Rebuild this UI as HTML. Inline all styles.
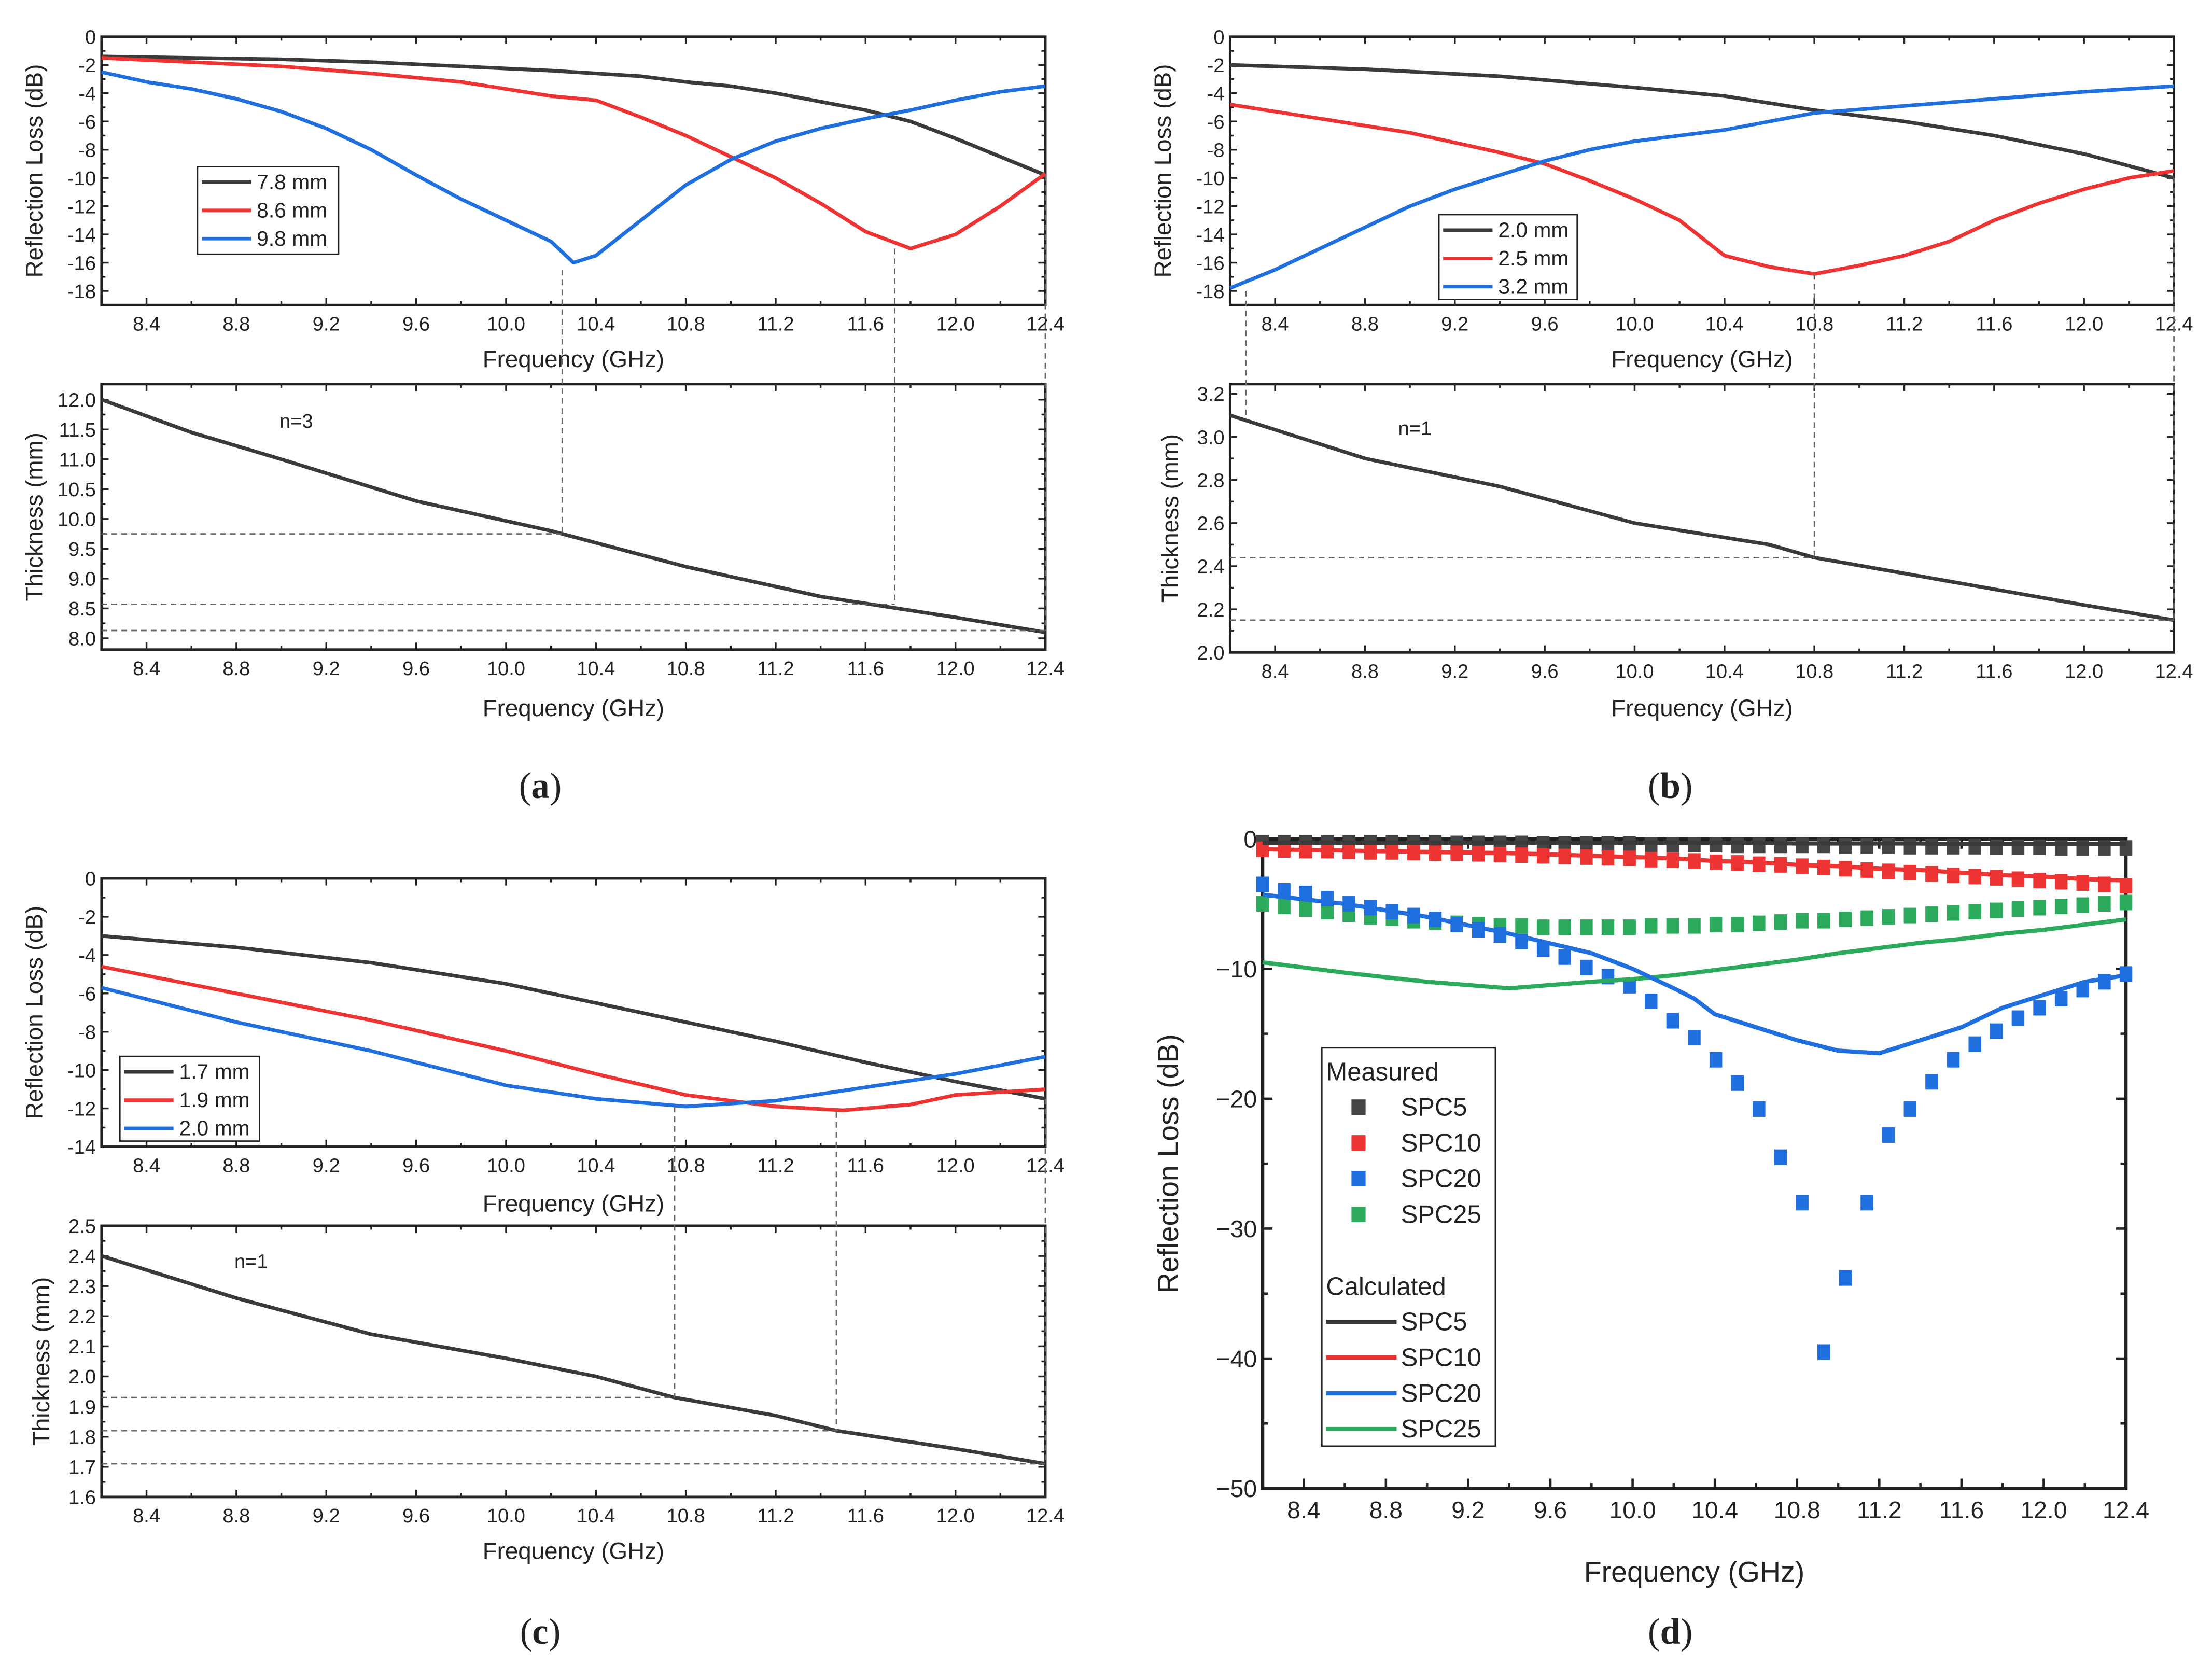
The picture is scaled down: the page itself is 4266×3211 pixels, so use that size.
<!DOCTYPE html>
<html><head><meta charset="utf-8">
<style>
html,body{margin:0;padding:0;background:#fff;}
svg{display:block;font-family:"Liberation Sans",sans-serif;}
</style></head>
<body>
<svg id="fig" width="4266" height="3211" viewBox="0 0 1568 1179" preserveAspectRatio="none" xmlns="http://www.w3.org/2000/svg"></svg>
<script>
// ---- Panel (a) data ----
const aFreq78 = [8.2,8.6,9.0,9.4,9.8,10.2,10.4,10.6,10.8,11.0,11.2,11.4,11.6,11.8,12.0,12.2,12.4];
const aRL78 = [-1.4,-1.5,-1.6,-1.8,-2.1,-2.4,-2.6,-2.8,-3.2,-3.5,-4.0,-4.6,-5.2,-6.0,-7.2,-8.5,-9.8];
const aFreq86 = [8.2,8.6,9.0,9.4,9.8,10.2,10.4,10.6,10.8,11.0,11.2,11.4,11.6,11.8,12.0,12.2,12.4];
const aRL86 = [-1.5,-1.8,-2.1,-2.6,-3.2,-4.2,-4.5,-5.7,-7.0,-8.5,-10.0,-11.8,-13.8,-15.0,-14.0,-12.0,-9.7];
const aFreq98 = [8.2,8.4,8.6,8.8,9.0,9.2,9.4,9.6,9.8,10.0,10.2,10.3,10.4,10.6,10.8,11.0,11.2,11.4,11.6,11.8,12.0,12.2,12.4];
const aRL98 = [-2.5,-3.2,-3.7,-4.4,-5.3,-6.5,-8.0,-9.8,-11.5,-13.0,-14.5,-16.0,-15.5,-13.0,-10.5,-8.7,-7.4,-6.5,-5.8,-5.2,-4.5,-3.9,-3.5];
const aThkFreq = [8.2,8.6,9.0,9.6,10.2,10.8,11.4,12.0,12.4];
const aThk = [12.0,11.45,11.0,10.3,9.8,9.2,8.7,8.35,8.1];
// ---- Panel (b) data ----
const bFreq20 = [8.2,8.8,9.4,10.0,10.4,10.8,11.2,11.6,12.0,12.4];
const bRL20 = [-2.0,-2.3,-2.8,-3.6,-4.2,-5.2,-6.0,-7.0,-8.3,-10.0];
const bFreq25 = [8.2,8.6,9.0,9.4,9.6,9.8,10.0,10.2,10.4,10.6,10.8,11.0,11.2,11.4,11.6,11.8,12.0,12.2,12.4];
const bRL25 = [-4.8,-5.8,-6.8,-8.2,-9.0,-10.2,-11.5,-13.0,-15.5,-16.3,-16.8,-16.2,-15.5,-14.5,-13.0,-11.8,-10.8,-10.0,-9.5];
const bFreq32 = [8.2,8.4,8.6,8.8,9.0,9.2,9.4,9.6,9.8,10.0,10.4,10.8,11.2,11.6,12.0,12.4];
const bRL32 = [-17.8,-16.5,-15.0,-13.5,-12.0,-10.8,-9.8,-8.8,-8.0,-7.4,-6.6,-5.4,-4.9,-4.4,-3.9,-3.5];
const bThkFreq = [8.2,8.8,9.4,10.0,10.6,10.8,11.4,12.0,12.4];
const bThk = [3.1,2.9,2.77,2.6,2.5,2.44,2.33,2.22,2.15];
// ---- Panel (c) data ----
const cFreq17 = [8.2,8.8,9.4,10.0,10.4,10.8,11.2,11.6,12.0,12.4];
const cRL17 = [-3.0,-3.6,-4.4,-5.5,-6.5,-7.5,-8.5,-9.6,-10.6,-11.5];
const cFreq19 = [8.2,8.8,9.4,10.0,10.4,10.8,11.2,11.5,11.8,12.0,12.4];
const cRL19 = [-4.6,-6.0,-7.4,-9.0,-10.2,-11.3,-11.9,-12.1,-11.8,-11.3,-11.0];
const cFreq20 = [8.2,8.8,9.4,10.0,10.4,10.8,11.2,11.6,12.0,12.4];
const cRL20 = [-5.7,-7.5,-9.0,-10.8,-11.5,-11.9,-11.6,-10.9,-10.2,-9.3];
const cThkFreq = [8.2,8.8,9.4,10.0,10.4,10.75,11.2,11.47,12.0,12.4];
const cThk = [2.4,2.26,2.14,2.06,2.0,1.93,1.87,1.82,1.76,1.71];
// ---- Panel (d) data ----
const dMeasFreq = [8.2,8.305,8.41,8.515,8.62,8.725,8.83,8.935,9.04,9.145,9.25,9.355,9.46,9.565,9.67,9.775,9.88,9.985,10.09,10.195,10.3,10.405,10.51,10.615,10.72,10.825,10.93,11.035,11.14,11.245,11.35,11.455,11.56,11.665,11.77,11.875,11.98,12.085,12.19,12.295,12.4];
const dMeas5 = [-0.3,-0.3,-0.3,-0.3,-0.3,-0.3,-0.3,-0.3,-0.3,-0.35,-0.35,-0.35,-0.35,-0.4,-0.4,-0.4,-0.4,-0.4,-0.45,-0.45,-0.45,-0.45,-0.5,-0.5,-0.5,-0.5,-0.5,-0.55,-0.55,-0.55,-0.6,-0.6,-0.6,-0.6,-0.65,-0.65,-0.65,-0.7,-0.7,-0.7,-0.7];
const dMeas10 = [-0.8,-0.85,-0.9,-0.9,-0.95,-1.0,-1.0,-1.05,-1.1,-1.1,-1.15,-1.2,-1.25,-1.3,-1.35,-1.4,-1.45,-1.5,-1.6,-1.65,-1.7,-1.8,-1.85,-1.95,-2.0,-2.1,-2.2,-2.3,-2.4,-2.5,-2.6,-2.7,-2.8,-2.9,-3.0,-3.1,-3.2,-3.3,-3.4,-3.5,-3.6];
const dMeas20 = [-3.5,-4.0,-4.2,-4.6,-5.0,-5.3,-5.6,-5.9,-6.2,-6.6,-7.0,-7.4,-7.9,-8.5,-9.1,-9.9,-10.6,-11.3,-12.5,-14.0,-15.3,-17.0,-18.8,-20.8,-24.5,-28.0,-39.5,-33.8,-28.0,-22.8,-20.8,-18.7,-17.0,-15.8,-14.8,-13.8,-13.0,-12.3,-11.6,-11.0,-10.4];
const dMeas25 = [-5.0,-5.2,-5.4,-5.6,-5.8,-6.0,-6.1,-6.3,-6.4,-6.5,-6.6,-6.7,-6.7,-6.8,-6.8,-6.8,-6.8,-6.8,-6.7,-6.7,-6.7,-6.6,-6.6,-6.5,-6.4,-6.3,-6.3,-6.2,-6.1,-6.0,-5.9,-5.8,-5.7,-5.6,-5.5,-5.4,-5.3,-5.2,-5.1,-5.0,-4.9];
const dCalcFreq = [8.2,8.6,9.0,9.4,9.8,10.0,10.2,10.3,10.4,10.6,10.8,11.0,11.2,11.4,11.6,11.8,12.0,12.2,12.4];
const dCalc5 = [-0.3,-0.3,-0.3,-0.3,-0.3,-0.3,-0.3,-0.3,-0.3,-0.3,-0.35,-0.35,-0.35,-0.35,-0.4,-0.4,-0.4,-0.4,-0.4];
const dCalc10 = [-0.8,-0.9,-1.0,-1.1,-1.3,-1.4,-1.5,-1.6,-1.7,-1.8,-2.0,-2.1,-2.3,-2.4,-2.6,-2.8,-2.9,-3.1,-3.2];
const dCalc20 = [-4.3,-5.0,-6.0,-7.3,-8.8,-10.0,-11.5,-12.3,-13.5,-14.5,-15.5,-16.3,-16.5,-15.5,-14.5,-13.0,-12.0,-11.0,-10.5];
const dCalc25 = [-9.5,-10.3,-11.0,-11.5,-11.0,-10.8,-10.5,-10.3,-10.1,-9.7,-9.3,-8.8,-8.4,-8.0,-7.7,-7.3,-7.0,-6.6,-6.2];
const freqTicks = [8.4,8.8,9.2,9.6,10.0,10.4,10.8,11.2,11.6,12.0,12.4];
const freqMinor = [8.6,9.0,9.4,9.8,10.2,10.6,11.0,11.4,11.8,12.2];

const NS="http://www.w3.org/2000/svg";
const svg=document.getElementById('fig');
const GRAY="#3a3a3a",RED="#ee3333",BLUE="#1f6fde",GREEN="#2aaa5a";
function el(tag,attrs,parent){const e=document.createElementNS(NS,tag);for(const k in attrs)e.setAttribute(k,attrs[k]);(parent||svg).appendChild(e);return e;}
function txt(s,x,y,size,anchor,parent,extra){const t=el('text',Object.assign({x:x,y:y,'font-size':size,'text-anchor':anchor||'middle',fill:'#222'},extra||{}),parent);t.textContent=s;return t;}
function fmt1(v){return v.toFixed(1);}

function makeAxes(name,x0,x1,y0,y1,ymin,ymax,yticks,yfmt,fs,xlabelY,ylab,ylabX,showXLabel,tickLen,frameW){
  const g=el('g',{});
  
  
  const sx=f=>x0+(f-8.2)/(12.4-8.2)*(x1-x0);
  const sy=v=>y0+(ymax-v)/(ymax-ymin)*(y1-y0);
  const tw=Math.max(1,frameW*0.7);
  const xt=el('g',{},g);
  
  
  freqTicks.forEach(f=>{const X=sx(f);
    el('line',{x1:X,x2:X,y1:y1,y2:y1-tickLen,stroke:'#222','stroke-width':tw},xt);
    el('line',{x1:X,x2:X,y1:y0,y2:y0+tickLen,stroke:'#222','stroke-width':tw},xt);
    txt(fmt1(f),X,y1+fs+4,fs,'middle',xt);});
  freqMinor.forEach(f=>{const X=sx(f);
    el('line',{x1:X,x2:X,y1:y1,y2:y1-tickLen*0.55,stroke:'#222','stroke-width':tw},xt);
    el('line',{x1:X,x2:X,y1:y0,y2:y0+tickLen*0.55,stroke:'#222','stroke-width':tw},xt);});
  const yt=el('g',{},g);
  
  
  yticks.forEach((v,i)=>{const Y=sy(v);
    el('line',{x1:x0,x2:x0+tickLen,y1:Y,y2:Y,stroke:'#222','stroke-width':tw},yt);
    el('line',{x1:x1,x2:x1-tickLen,y1:Y,y2:Y,stroke:'#222','stroke-width':tw},yt);
    txt(yfmt(v),x0-4,Y+fs*0.36,fs,'end',yt,{});
    if(i<yticks.length-1){const Ym=sy((v+yticks[i+1])/2);
      el('line',{x1:x0,x2:x0+tickLen*0.55,y1:Ym,y2:Ym,stroke:'#222','stroke-width':tw},yt);
      el('line',{x1:x1,x2:x1-tickLen*0.55,y1:Ym,y2:Ym,stroke:'#222','stroke-width':tw},yt);}
  });
  el('rect',{x:x0,y:y0,width:x1-x0,height:y1-y0,fill:'none',stroke:'#222','stroke-width':frameW},g);
  if(showXLabel){const t=txt('Frequency (GHz)',(x0+x1)/2,xlabelY,fs*1.2,'middle',g);
    }
  const yl=txt(ylab,0,0,fs*1.2,'middle',g,{transform:`translate(${ylabX},${(y0+y1)/2}) rotate(-90)`});
  
  
  return {g,sx,sy};
}
function line(ax,xs,ys,color,name,w){
  const pts=xs.map((f,i)=>ax.sx(f).toFixed(2)+','+ax.sy(ys[i]).toFixed(2)).join(' ');
  const p=el('polyline',{points:pts,fill:'none',stroke:color,'stroke-width':w||2.6,'stroke-linejoin':'round'},ax.g);
  
  
  return p;
}
function dash(x1,y1,x2,y2,name){const l=el('line',{x1,y1,x2,y2,stroke:'#666','stroke-width':1,'stroke-dasharray':'4,3'});
  
  }
function legend(name,x,y,w,h,items,fs){
  const g=el('g',{});
  
  
  el('rect',{x,y,width:w,height:h,fill:'#fff',stroke:'#222','stroke-width':1},g);
  items.forEach((it,i)=>{const Y=y+11+i*20;
    const e=el('g',{},g);
    
    
    el('line',{x1:x+3,x2:x+38,y1:Y,y2:Y,stroke:it[1],'stroke-width':2.5},e);
    txt(it[0],x+42,Y+5,fs,'start',e);});
}
function caption(s,x,y){const t=txt('',x,y,26,'middle',null,{'font-family':'Liberation Serif,serif'});
  t.innerHTML='(<tspan font-weight="bold">'+s+'</tspan>)';
  
  }

const dbFmt=v=>v===0?'0':String(v);
// ---- Panel a ----
const aTop=makeAxes('panel-a-reflection-chart',72,741,26,216,-19,0,[0,-2,-4,-6,-8,-10,-12,-14,-16,-18],dbFmt,14,260,'Reflection Loss (dB)',30,true,5,1.8);
line(aTop,aFreq78,aRL78,GRAY,'line-7-8mm');
line(aTop,aFreq86,aRL86,RED,'line-8-6mm');
line(aTop,aFreq98,aRL98,BLUE,'line-9-8mm');
legend('legend-a',140,118,100,62,[['7.8 mm',GRAY],['8.6 mm',RED],['9.8 mm',BLUE]],15);
const aBot=makeAxes('panel-a-thickness-chart',72,741,272,460,7.81,12.26,[8.0,8.5,9.0,9.5,10.0,10.5,11.0,11.5,12.0],fmt1,14,507,'Thickness (mm)',30,true,5,1.8);
line(aBot,aThkFreq,aThk,GRAY,'thickness-line-a');
txt('n=3',210,303,14,'middle');
[[10.25,-16.5,9.75],[11.73,-15,8.57],[12.4,-9.8,8.13]].forEach((d,i)=>{
  dash(aTop.sx(d[0]),aTop.sy(d[1]),aTop.sx(d[0]),aBot.sy(d[2]),'guide-vertical-a');
  dash(72,aBot.sy(d[2]),aTop.sx(d[0]),aBot.sy(d[2]),'guide-horizontal-a');});
// ---- Panel b ----
const bTop=makeAxes('panel-b-reflection-chart',872,1541,26,216,-19,0,[0,-2,-4,-6,-8,-10,-12,-14,-16,-18],dbFmt,14,260,'Reflection Loss (dB)',830,true,5,1.8);
line(bTop,bFreq20,bRL20,GRAY,'line-2-0mm');
line(bTop,bFreq25,bRL25,RED,'line-2-5mm');
line(bTop,bFreq32,bRL32,BLUE,'line-3-2mm');
legend('legend-b',1020,152,98,60,[['2.0 mm',GRAY],['2.5 mm',RED],['3.2 mm',BLUE]],15);
const bBot=makeAxes('panel-b-thickness-chart',872,1541,272,462,2.0,3.245,[2.0,2.2,2.4,2.6,2.8,3.0,3.2],fmt1,14,507,'Thickness (mm)',835,true,5,1.8);
line(bBot,bThkFreq,bThk,GRAY,'thickness-line-b');
txt('n=1',1003,308,14,'middle');
dash(bTop.sx(8.27),bTop.sy(-18),bTop.sx(8.27),bBot.sy(3.1),'guide-vertical-b');
[[10.8,-16.8,2.44],[12.4,-10,2.15]].forEach(d=>{
  dash(bTop.sx(d[0]),bTop.sy(d[1]),bTop.sx(d[0]),bBot.sy(d[2]),'guide-vertical-b');
  dash(872,bBot.sy(d[2]),bTop.sx(d[0]),bBot.sy(d[2]),'guide-horizontal-b');});
// ---- Panel c ----
const cTop=makeAxes('panel-c-reflection-chart',72,741,622,812,-14,0,[0,-2,-4,-6,-8,-10,-12,-14],dbFmt,14,858,'Reflection Loss (dB)',30,true,5,1.8);
line(cTop,cFreq17,cRL17,GRAY,'line-1-7mm');
line(cTop,cFreq19,cRL19,RED,'line-1-9mm');
line(cTop,cFreq20,cRL20,BLUE,'line-2-0mm-c');
legend('legend-c',85,748,99,60,[['1.7 mm',GRAY],['1.9 mm',RED],['2.0 mm',BLUE]],15);
const cBot=makeAxes('panel-c-thickness-chart',72,741,868,1060,1.6,2.5,[1.6,1.7,1.8,1.9,2.0,2.1,2.2,2.3,2.4,2.5],fmt1,14,1104,'Thickness (mm)',35,true,5,1.8);
line(cBot,cThkFreq,cThk,GRAY,'thickness-line-c');
txt('n=1',178,898,14,'middle');
[[10.75,-11.9,1.93],[11.47,-12.2,1.82],[12.4,-11.5,1.71]].forEach(d=>{
  dash(cTop.sx(d[0]),cTop.sy(d[1]),cTop.sx(d[0]),cBot.sy(d[2]),'guide-vertical-c');
  dash(72,cBot.sy(d[2]),cTop.sx(d[0]),cBot.sy(d[2]),'guide-horizontal-c');});
// ---- Panel d ----
const dAx=makeAxes('panel-d-chart',895,1507,594,1054,-50,0,[0,-10,-20,-30,-40,-50],v=>v===0?'0':'\u2212'+Math.abs(v),17,1120,'Reflection Loss (dB)',835,true,7,2.4);
function squares(xs,ys,color,name){
  const g=el('g',{},dAx.g);
  
  
  xs.forEach((f,i)=>{const s=el('rect',{x:dAx.sx(f)-4.5,y:dAx.sy(ys[i])-5.5,width:9,height:11,fill:color},g);
    
    });
}
squares(dMeasFreq,dMeas5,'#444','measured-spc5');
squares(dMeasFreq,dMeas10,RED,'measured-spc10');
squares(dMeasFreq,dMeas25,GREEN,'measured-spc25');
squares(dMeasFreq,dMeas20,BLUE,'measured-spc20');
line(dAx,dCalcFreq,dCalc5,GRAY,'calculated-spc5',3);
line(dAx,dCalcFreq,dCalc10,RED,'calculated-spc10',3);
line(dAx,dCalcFreq,dCalc25,GREEN,'calculated-spc25',3);
line(dAx,dCalcFreq,dCalc20,BLUE,'calculated-spc20',3);
(function(){
  const g=el('g',{});
  
  
  el('rect',{x:937,y:742,width:123,height:282,fill:'#fff',stroke:'#222','stroke-width':1},g);
  txt('Measured',940,765,18,'start',g);
  [['SPC5','#444'],['SPC10',RED],['SPC20',BLUE],['SPC25',GREEN]].forEach((it,i)=>{const Y=784+i*25.3;
    const e=el('g',{},g);
    
    
    el('rect',{x:958,y:Y-5.5,width:10,height:11,fill:it[1]},e);
    txt(it[0],993,Y+6,18,'start',e);});
  txt('Calculated',940,917,18,'start',g);
  [['SPC5',GRAY],['SPC10',RED],['SPC20',BLUE],['SPC25',GREEN]].forEach((it,i)=>{const Y=936+i*25.3;
    const e=el('g',{},g);
    
    
    el('line',{x1:940,x2:990,y1:Y,y2:Y,stroke:it[1],'stroke-width':3},e);
    txt(it[0],993,Y+6,18,'start',e);});
})();
caption('a',383,565);caption('b',1184,565);caption('c',383,1164);caption('d',1184,1164);
</script>
</body></html>
